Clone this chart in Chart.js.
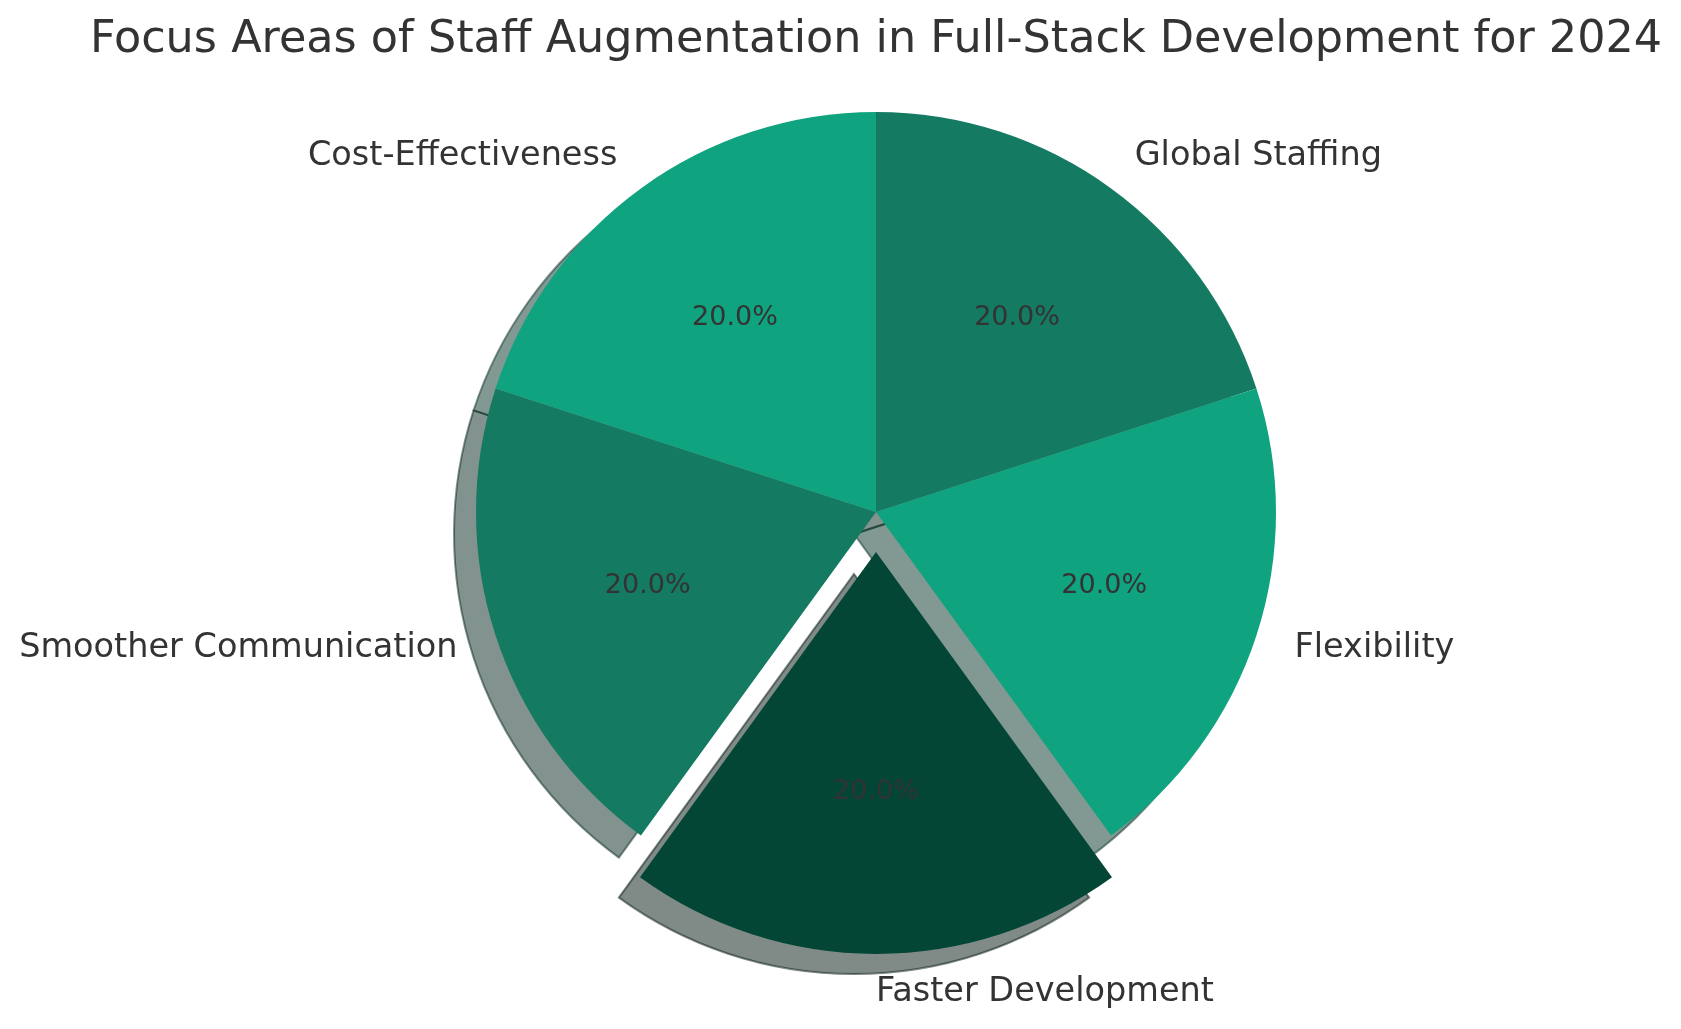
<!DOCTYPE html>
<html>
<head>
<meta charset="utf-8">
<script src="https://cdn.jsdelivr.net/npm/chart.js@4.4.1/dist/chart.umd.min.js"></script>
<style>
  html, body { margin: 0; padding: 0; background: #ffffff; }
  #wrap { width: 1681px; height: 1029px; }
</style>
</head>
<body>
<div id="wrap"><canvas id="chart" width="1681" height="1029"></canvas></div>
<script>
// data
const categories = [
  "Global Staffing",
  "Flexibility",
  "Faster Development",
  "Smoother Communication",
  "Cost-Effectiveness",
];
const shares = [20, 20, 20, 20, 20];
const explodedLabel = "Faster Development";
const chartTitle = "Focus Areas of Staff Augmentation in Full-Stack Development for 2024";

const sliceColors = ["#147a61", "#10a37f", "#034635", "#147a61", "#10a37f"];
const textColor = "#333333";
const fontFamily = "'DejaVu Sans', sans-serif";

// matplotlib style shadow: 0.3 * face colour, half transparent
function shadowColor(hex) {
  const n = parseInt(hex.slice(1), 16);
  const r = Math.round(((n >> 16) & 255) * 0.3);
  const g = Math.round(((n >> 8) & 255) * 0.3);
  const b = Math.round((n & 255) * 0.3);
  return "rgba(" + r + "," + g + "," + b + ",0.5)";
}

function arcCenter(el) {
  const p = el.getProps(["x", "y", "startAngle", "endAngle", "outerRadius"], true);
  const mid = (p.startAngle + p.endAngle) / 2;
  const d = (el.options.offset || 0) / 4;
  return {
    cx: p.x + Math.cos(mid) * d,
    cy: p.y + Math.sin(mid) * d,
    r: p.outerRadius,
    start: p.startAngle,
    end: p.endAngle,
    mid: mid,
  };
}

const shadowPlugin = {
  id: "pieShadow",
  beforeDatasetsDraw(chart) {
    const ctx = chart.ctx;
    const meta = chart.getDatasetMeta(0);
    ctx.save();
    meta.data.forEach((el, i) => {
      const a = arcCenter(el);
      const sx = a.cx - 22;
      const sy = a.cy + 22;
      ctx.beginPath();
      ctx.moveTo(sx, sy);
      ctx.arc(sx, sy, a.r, a.start, a.end);
      ctx.closePath();
      ctx.fillStyle = shadowColor(sliceColors[i]);
      ctx.strokeStyle = shadowColor(sliceColors[i]);
      ctx.lineWidth = 2;
      ctx.fill();
      ctx.stroke();
    });
    ctx.restore();
  },
};

const labelPlugin = {
  id: "pieLabels",
  afterDatasetsDraw(chart) {
    const ctx = chart.ctx;
    const meta = chart.getDatasetMeta(0);
    const total = shares.reduce((s, v) => s + v, 0);
    ctx.save();
    ctx.fillStyle = textColor;
    ctx.textBaseline = "middle";
    meta.data.forEach((el, i) => {
      const a = arcCenter(el);
      const cos = Math.cos(a.mid);
      const sin = Math.sin(a.mid);

      // percentage inside the slice
      ctx.font = "27px " + fontFamily;
      ctx.textAlign = "center";
      const pct = ((shares[i] / total) * 100).toFixed(1) + "%";
      ctx.fillText(pct, a.cx + cos * a.r * 0.6, a.cy + sin * a.r * 0.6);

      // category label outside
      ctx.font = "33.5px " + fontFamily;
      ctx.textAlign = cos > -1e-6 ? "left" : "right";
      ctx.fillText(categories[i], a.cx + cos * a.r * 1.1, a.cy + sin * a.r * 1.1);
    });

    // title centred over the pie, drawn without width squeeze
    const area = chart.chartArea;
    ctx.font = "44.5px " + fontFamily;
    ctx.textAlign = "center";
    ctx.fillText(chartTitle, (area.left + area.right) / 2, 40);
    ctx.restore();
  },
};

const chart = new Chart(document.getElementById("chart"), {
  type: "pie",
  data: {
    labels: categories,
    datasets: [
      {
        data: shares,
        backgroundColor: sliceColors,
        borderWidth: 0,
        radius: 400,
        offset: ctx => (categories[ctx.dataIndex] === explodedLabel ? 160 : 0),
      },
    ],
  },
  options: {
    responsive: false,
    devicePixelRatio: 1,
    animation: false,
    layout: {
      padding: { left: 456, right: 385, top: 92, bottom: 97 },
    },
    plugins: {
      legend: { display: false },
      tooltip: { enabled: false },
      title: { display: false },
    },
  },
  plugins: [shadowPlugin, labelPlugin],
});
</script>
</body>
</html>
